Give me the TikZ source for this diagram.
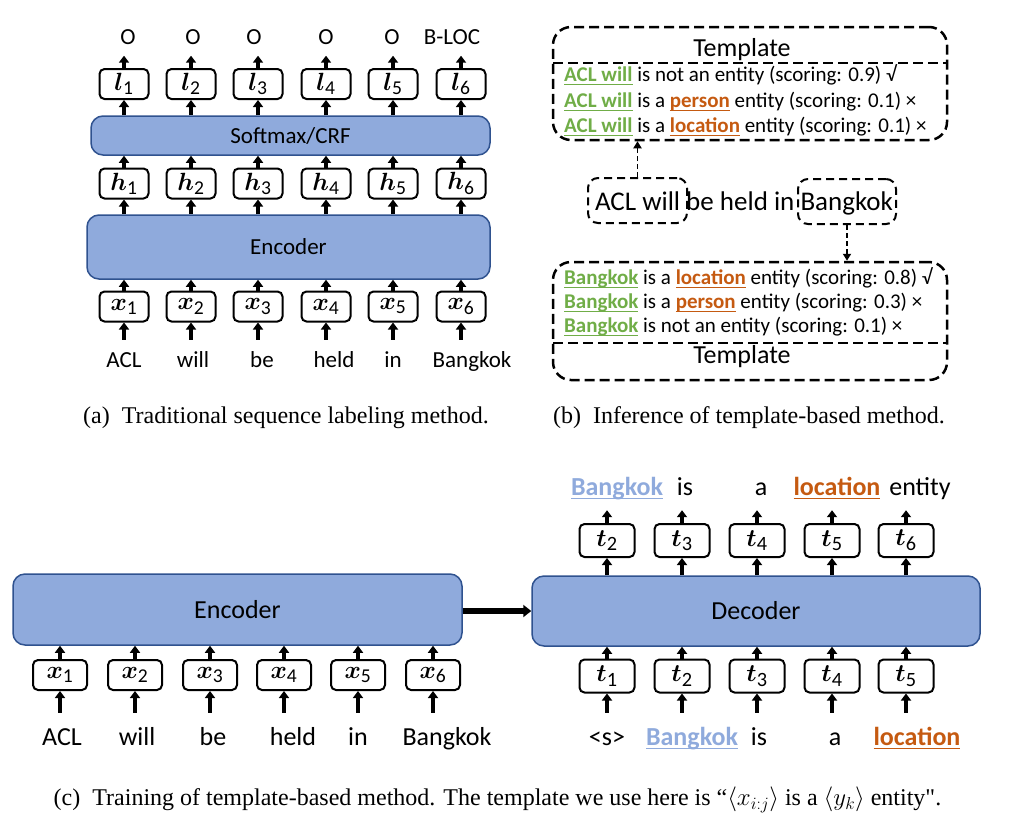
\documentclass[tikz,border=0pt]{standalone}
\usepackage{fontspec}
\usepackage{amsmath,bm}
\setmainfont{Carlito}
\newfontfamily\capfont{Liberation Serif}
\usetikzlibrary{arrows.meta,positioning}

\definecolor{boxblue}{HTML}{8FAADC}
\definecolor{boxedge}{HTML}{2F528F}
\definecolor{entgreen}{HTML}{70AD47}
\definecolor{typeorange}{HTML}{C55A11}

\newcommand{\fs}[1]{\fontsize{#1}{#1}\selectfont}
% coloured, underlined word
\newcommand{\uword}[2]{{\color{#1}\bfseries\setbox0\hbox{#2}\rlap{\rule[-0.17em]{\wd0}{0.07em}}\box0}}

\begin{document}
\begin{tikzpicture}[x=1pt,y=-1pt,
    tok/.style={draw, line width=2pt, rounded corners=5pt, fill=white, minimum width=49pt, minimum height=30pt, inner sep=0pt, font=\fs{28}},
    layer/.style={draw=boxedge, line width=1.5pt, fill=boxblue, rounded corners=12pt, font=\fs{23}},
    arr/.style={line width=3.5pt, -{Triangle[width=10pt,length=7pt]}},
    bigarr/.style={line width=6pt, -{Triangle[width=12pt,length=8pt]}},
    tag/.style={anchor=base, inner xsep=0pt, inner ysep=11pt, text depth=0pt, font=\fs{23}},
    wrd/.style={anchor=base, inner xsep=0pt, inner ysep=12pt, text height=15pt, font=\fs{23}},
    tmpl/.style={draw, line width=2.5pt, dash pattern=on 10pt off 5pt, rounded corners=18pt},
    dbox/.style={draw, line width=2pt, dash pattern=on 8pt off 5pt, rounded corners=10pt},
    dline/.style={line width=2.5pt, dash pattern=on 10pt off 5pt},
    darr/.style={line width=1.8pt, dash pattern=on 5pt off 3pt, -{Triangle[width=8pt,length=7pt]}},
    sent/.style={anchor=west, inner sep=0pt, font=\fs{21}},
    ttl/.style={inner sep=0pt, font=\fs{26}},
    captxt/.style={inner sep=0pt, font=\capfont\fs{24}}]

    \useasboundingbox (0,0) rectangle (1033,828);

    % (a) sequence labeling
    \node[layer, minimum width=399pt, minimum height=39pt] (sm) at (290.5,135.5) {Softmax/CRF};
    \node[layer, minimum width=403pt, minimum height=64pt] (enca) at (288.5,247) {Encoder};

    \foreach \i/\cx in {1/124,2/191,3/258,4/326,5/393,6/461}{
        \node[tok] (l\i) at (\cx,84) {$\bm{l}_{\text{\i}}$};
        \node[tok] (h\i) at (\cx,183.5) {$\bm{h}_{\text{\i}}$};
        \node[tok] (x\i) at (\cx,306.5) {$\bm{x}_{\text{\i}}$};
        \draw[arr] (l\i.south |- sm.north) -- (l\i.south);
        \draw[arr] (h\i.north) -- (h\i.north |- sm.south);
        \draw[arr] (h\i.south |- enca.north) -- (h\i.south);
        \draw[arr] (x\i.north) -- (x\i.north |- enca.south);
    }

    \foreach \i/\cx/\t in {1/128/O,2/193/O,3/254/O,4/326/O,5/392/O,6/452/B-LOC}{
        \node[tag] (o\i) at (\cx,44.5) {\t};
        \draw[arr] (l\i.north) -- (l\i.north |- o\i.south);
    }

    \foreach \i/\cx/\t in {1/124/ACL,2/193/will,3/262/be,4/334/held,5/393/in,6/472/Bangkok}{
        \node[wrd] (w\i) at (\cx,367) {\t};
        \draw[arr] (x\i.south |- w\i.north) -- (x\i.south);
    }

    % (b) inference with templates
    \node[tmpl, minimum width=394pt, minimum height=113pt] (topt) at (750,83.5) {};
    \draw[dline] (553,63) -- (947,63);
    \node[ttl] (ttop) at (742,50) {Template};
    \node[sent] (s1) at (564,75) {\uword{entgreen}{ACL will} is not an entity (scoring: 0.9) √};
    \node[sent] (s2) at (564,102) {\uword{entgreen}{ACL will} is a \uword{typeorange}{person} entity (scoring: 0.1) ×};
    \node[sent] (s3) at (564,127) {\uword{entgreen}{ACL will} is a \uword{typeorange}{location} entity (scoring: 0.1) ×};

    \node[inner sep=0pt, font=\fs{27}] (sen) at (744,203) {ACL will be held in Bangkok};
    \node[dbox, minimum width=99pt, minimum height=45pt] (aclbox) at (637.5,200.5) {};
    \node[dbox, minimum width=98pt, minimum height=45pt] (bkkbox) at (847,201.5) {};

    \node[tmpl, minimum width=394pt, minimum height=118pt] (bott) at (750,321) {};
    \draw[dline] (553,343) -- (947,343);
    \node[ttl] (tbot) at (742,357) {Template};
    \node[sent] (s4) at (564,278) {\uword{entgreen}{Bangkok} is a \uword{typeorange}{location} entity (scoring: 0.8) √};
    \node[sent] (s5) at (564,303) {\uword{entgreen}{Bangkok} is a \uword{typeorange}{person} entity (scoring: 0.3) ×};
    \node[sent] (s6) at (564,327) {\uword{entgreen}{Bangkok} is not an entity (scoring: 0.1) ×};

    \draw[darr] (aclbox.north) -- (aclbox.north |- topt.south);
    \draw[darr] (bkkbox.south) -- (bkkbox.south |- bott.north);

    % (c) training: encoder and decoder
    \node[layer, minimum width=449pt, minimum height=71pt, font=\fs{26}] (encc) at (237.5,609.5) {Encoder};
    \node[layer, minimum width=448pt, minimum height=70pt, font=\fs{26}] (dec) at (756,611) {Decoder};
    \draw[bigarr] (encc.east |- dec.west) -- (dec.west);

    \foreach \i/\cx in {1/60,2/135,3/210,4/284,5/358,6/433}{
        \node[tok, minimum width=54pt] (cx\i) at (\cx,675) {$\bm{x}_{\text{\i}}$};
        \draw[arr] (cx\i.north) -- (cx\i.north |- encc.south);
    }
    \foreach \i/\cx/\t in {1/62/ACL,2/137/will,3/213/be,4/293/held,5/358/in,6/447/Bangkok}{
        \node[wrd, font=\fs{26}, text height=16pt, inner ysep=16pt] (cw\i) at (\cx,745) {\t};
        \draw[arr] (cx\i.south |- cw\i.north) -- (cx\i.south);
    }

    \foreach \i/\j/\cx in {1/2/607,2/3/682,3/4/757,4/5/832,5/6/906}{
        \node[tok, minimum width=55pt, minimum height=33pt, font=\fs{29}] (ta\i) at (\cx,540.5) {$\bm{t}_{\text{\j}}$};
        \node[tok, minimum width=55pt, minimum height=33pt, font=\fs{29}] (tb\i) at (\cx,676) {$\bm{t}_{\text{\i}}$};
        \draw[arr] (ta\i.south |- dec.north) -- (ta\i.south);
        \draw[arr] (tb\i.north) -- (tb\i.north |- dec.south);
    }

    \foreach \i/\cx/\t in {1/617/{\uword{boxblue}{Bangkok}},2/685/is,3/761/a,4/837/{\uword{typeorange}{location}},5/920/entity}{
        \node[tag, font=\fs{26}, inner ysep=15pt] (tw\i) at (\cx,495) {\t};
        \draw[arr] (ta\i.north) -- (ta\i.north |- tw\i.south);
    }
    \foreach \i/\cx/\t in {1/607/<s>,2/692/{\uword{boxblue}{Bangkok}},3/759/is,4/835/a,5/917/{\uword{typeorange}{location}}}{
        \node[wrd, font=\fs{26}, text height=16pt, inner ysep=16pt] (bw\i) at (\cx,745) {\t};
        \draw[arr] (tb\i.south |- bw\i.north) -- (tb\i.south);
    }

    % captions
    \node[captxt] (capa) at (286,418) {(a)~~Traditional sequence labeling method.};
    \node[captxt] (capb) at (749,418) {(b)~~Inference of template-based method.};
    \node[captxt] (capc) at (497.5,800) {(c)~~Training of template-based method. The template we use here is “$\langle x_{i:j}\rangle$ is a $\langle y_k\rangle$ entity".};

\end{tikzpicture}
\end{document}
